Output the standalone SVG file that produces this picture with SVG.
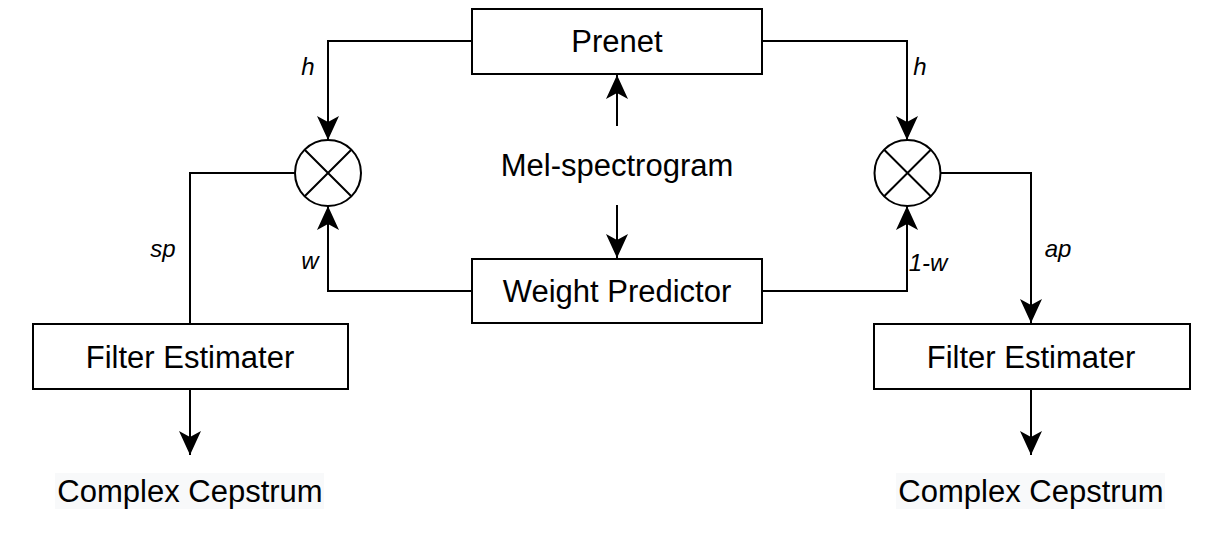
<svg xmlns="http://www.w3.org/2000/svg" width="1206" height="537" viewBox="0 0 1206 537">
<style>
.box{fill:#fff;stroke:#000;stroke-width:2}
.ln{fill:none;stroke:#000;stroke-width:2}
.t{font-family:"Liberation Sans",Arial,sans-serif;font-size:31px;fill:#000;text-anchor:middle;dominant-baseline:central}
.lab{font-family:"Liberation Sans",Arial,sans-serif;font-size:24px;font-style:italic;fill:#000;text-anchor:middle;dominant-baseline:central}
</style>
<defs>
<marker id="arr" viewBox="0 0 24 22" refX="24" refY="11" markerWidth="24" markerHeight="22" markerUnits="userSpaceOnUse" orient="auto">
<path d="M0,0 L24,11 L0,22 L6,11 Z" fill="#000"/>
</marker>
</defs>
<rect width="1206" height="537" fill="#fff"/>
<g id="connectors">
<polyline class="ln" points="472,41 328,41 328,140" marker-end="url(#arr)"/>
<polyline class="ln" points="762,41 907,41 907,140" marker-end="url(#arr)"/>
<polyline class="ln" points="472,291 328,291 328,206" marker-end="url(#arr)"/>
<polyline class="ln" points="762,291 907,291 907,206" marker-end="url(#arr)"/>
<polyline class="ln" points="295,173 190,173 190,324"/>
<polyline class="ln" points="941,173 1031,173 1031,323" marker-end="url(#arr)"/>
<line class="ln" x1="617" y1="126" x2="617" y2="75" marker-end="url(#arr)"/>
<line class="ln" x1="617" y1="205" x2="617" y2="258" marker-end="url(#arr)"/>
<line class="ln" x1="190" y1="389" x2="190" y2="455" marker-end="url(#arr)"/>
<line class="ln" x1="1031" y1="389" x2="1031" y2="455" marker-end="url(#arr)"/>
<text class="lab" x="308" y="66">h</text>
<text class="lab" x="920" y="66">h</text>
<text class="lab" x="163" y="248">sp</text>
<text class="lab" x="310" y="260">w</text>
<text class="lab" x="928" y="262">1-w</text>
<text class="lab" x="1058" y="248">ap</text>
</g>
<g id="prenet">
<rect class="box" x="472" y="9" width="290" height="65"/>
<text class="t" x="617" y="41">Prenet</text>
</g>
<g id="mel">
<text class="t" x="617" y="165">Mel-spectrogram</text>
</g>
<g id="weight">
<rect class="box" x="472" y="259" width="290" height="64"/>
<text class="t" x="617" y="291">Weight Predictor</text>
</g>
<g id="mulLeft">
<circle class="box" cx="328" cy="173" r="33"/>
<path class="ln" d="M304.7,149.7 L351.3,196.3 M351.3,149.7 L304.7,196.3"/>
</g>
<g id="mulRight">
<circle class="box" cx="907.5" cy="173" r="33"/>
<path class="ln" d="M884.2,149.7 L930.8,196.3 M930.8,149.7 L884.2,196.3"/>
</g>
<g id="filterLeft">
<rect class="box" x="33" y="324" width="315" height="65"/>
<text class="t" x="190" y="357">Filter Estimater</text>
</g>
<g id="filterRight">
<rect class="box" x="874" y="324" width="316" height="65"/>
<text class="t" x="1031" y="357">Filter Estimater</text>
</g>
<g id="cepLeft">
<rect x="55" y="473" width="269" height="36" fill="#f8f9fa"/>
<text class="t" x="190" y="491">Complex Cepstrum</text>
</g>
<g id="cepRight">
<rect x="896" y="473" width="269" height="36" fill="#f8f9fa"/>
<text class="t" x="1031" y="491">Complex Cepstrum</text>
</g>
</svg>
